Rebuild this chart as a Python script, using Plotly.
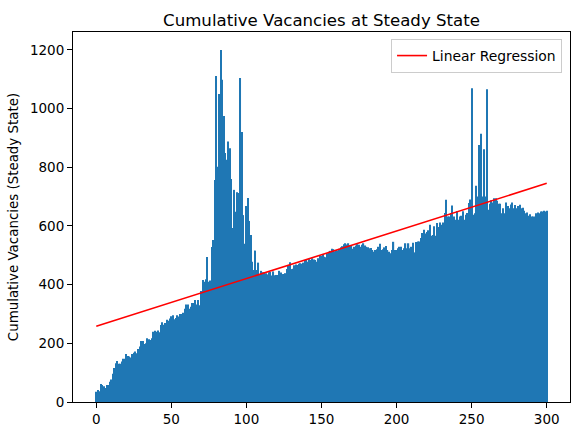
import numpy as np
import plotly.graph_objs as go

# cumulative vacancies per step
vacancies = [
    35, 41, 37, 61, 58, 54, 48, 58, 58, 69, 77, 96, 116, 132, 140, 130, 130, 138, 147, 147,
    164, 157, 155, 152, 164, 168, 172, 166, 181, 189, 208, 208, 198, 200, 217, 214, 211, 217, 239, 243,
    239, 244, 238, 262, 272, 263, 269, 280, 277, 285,
    292, 296, 282, 286, 296, 291, 300, 300, 304, 318, 332, 332, 318, 325, 337, 337, 348, 332, 348, 330,
    378,
    416, 410, 418, 494, 410, 414, 528, 552, 757, 1111, 802, 1050, 1200, 1098, 975, 849, 826, 888, 865, 760,
    593, 723, 648, 715, 712, 1104, 920, 637, 539, 668, 695,
    617, 569, 478, 450, 516, 450, 475, 433, 447, 442, 441, 439, 435, 442, 443, 431, 445, 432, 433, 433,
    447, 441, 436, 436, 439, 453, 464, 476, 453, 454, 466, 469, 467, 471, 473, 471, 475, 484, 484, 478,
    487, 484, 490, 486, 484, 478, 490, 498, 498, 504,
    495, 493, 507, 512, 515, 522, 521, 514, 518, 516, 522, 527, 531, 538, 541, 537, 541, 533, 532, 522,
    529, 533, 538, 536, 529, 536, 541, 533, 529, 527, 524, 525, 518, 512, 518, 521, 529, 539, 518, 521,
    527, 532, 518, 512, 507, 518, 546, 518, 518, 524, 529,
    529, 518, 524, 541, 524, 541, 524, 529, 543, 510, 545, 547, 547, 559, 576, 587, 574, 579, 585, 604,
    567, 569, 599, 567, 610, 596, 612, 604, 612, 644, 689, 632, 632, 644, 670, 632, 621, 651, 621, 632,
    635, 650, 621, 638, 644, 678, 690, 1069, 638,
    643, 737, 700, 876, 914, 700, 861, 700, 1066, 655, 676, 688, 680, 694, 694, 686, 676, 676, 643, 660,
    643, 680, 668, 660, 673, 680, 660, 671, 660, 668, 672, 660, 662, 652, 643, 646, 635, 640, 632, 632,
    632, 643, 646, 643, 649, 649, 652, 649, 652,
]
steps = list(range(len(vacancies)))

x_ticks = [0, 50, 100, 150, 200, 250, 300]
y_ticks = [0, 200, 400, 600, 800, 1000, 1200]


def steady_state_bars(x, y):
    slope, intercept = np.polyfit(x, y, 1)
    fit = intercept + slope * np.array(x)

    fig = go.Figure()
    fig.add_trace(go.Bar(x=x, y=y, marker={"color": "#1f77b4", "line": {"width": 0}},
                         showlegend=False))
    fig.add_trace(go.Scatter(x=x, y=fit, mode="lines", name="Linear Regression",
                             line={"color": "red", "width": 1.6}))

    axis = {"showgrid": False, "zeroline": False, "showline": True, "mirror": True,
            "linecolor": "black", "linewidth": 1, "ticks": "outside", "ticklen": 5,
            "tickcolor": "black", "tickfont": {"size": 13.5, "color": "black"},
            "automargin": False}

    fig.update_layout(
        {"template": "plotly_white",
         "width": 580, "height": 430,
         "margin": {"l": 73, "r": 10, "t": 32, "b": 28},
         "font": {"family": "DejaVu Sans", "color": "black"},
         "plot_bgcolor": "white", "paper_bgcolor": "white",
         "bargap": 0.2,
         "title": {"text": "Cumulative Vacancies at Steady State", "x": 0.5, "xref": "paper",
                   "y": 1, "yref": "paper", "yanchor": "bottom", "pad": {"b": 6},
                   "font": {"size": 16.6, "color": "black"}},
         "xaxis": {**axis, "range": [-15.5, 315.5], "tickvals": x_ticks},
         "yaxis": {**axis, "range": [0, 1261], "tickvals": y_ticks,
                   "title": {"text": "Cumulative Vacancies (Steady State)", "standoff": 8,
                             "font": {"size": 13.4}}},
         "legend": {"x": 0.984, "y": 0.981, "xanchor": "right", "yanchor": "top",
                    "bgcolor": "rgba(255,255,255,0.8)", "bordercolor": "#cccccc", "borderwidth": 1,
                    "itemwidth": 30, "font": {"size": 13.9}},
         })
    return fig


fig = steady_state_bars(steps, vacancies)
fig.write_html("out.html", config={"displayModeBar": False},
               post_script="document.body.style.margin = '0';")
